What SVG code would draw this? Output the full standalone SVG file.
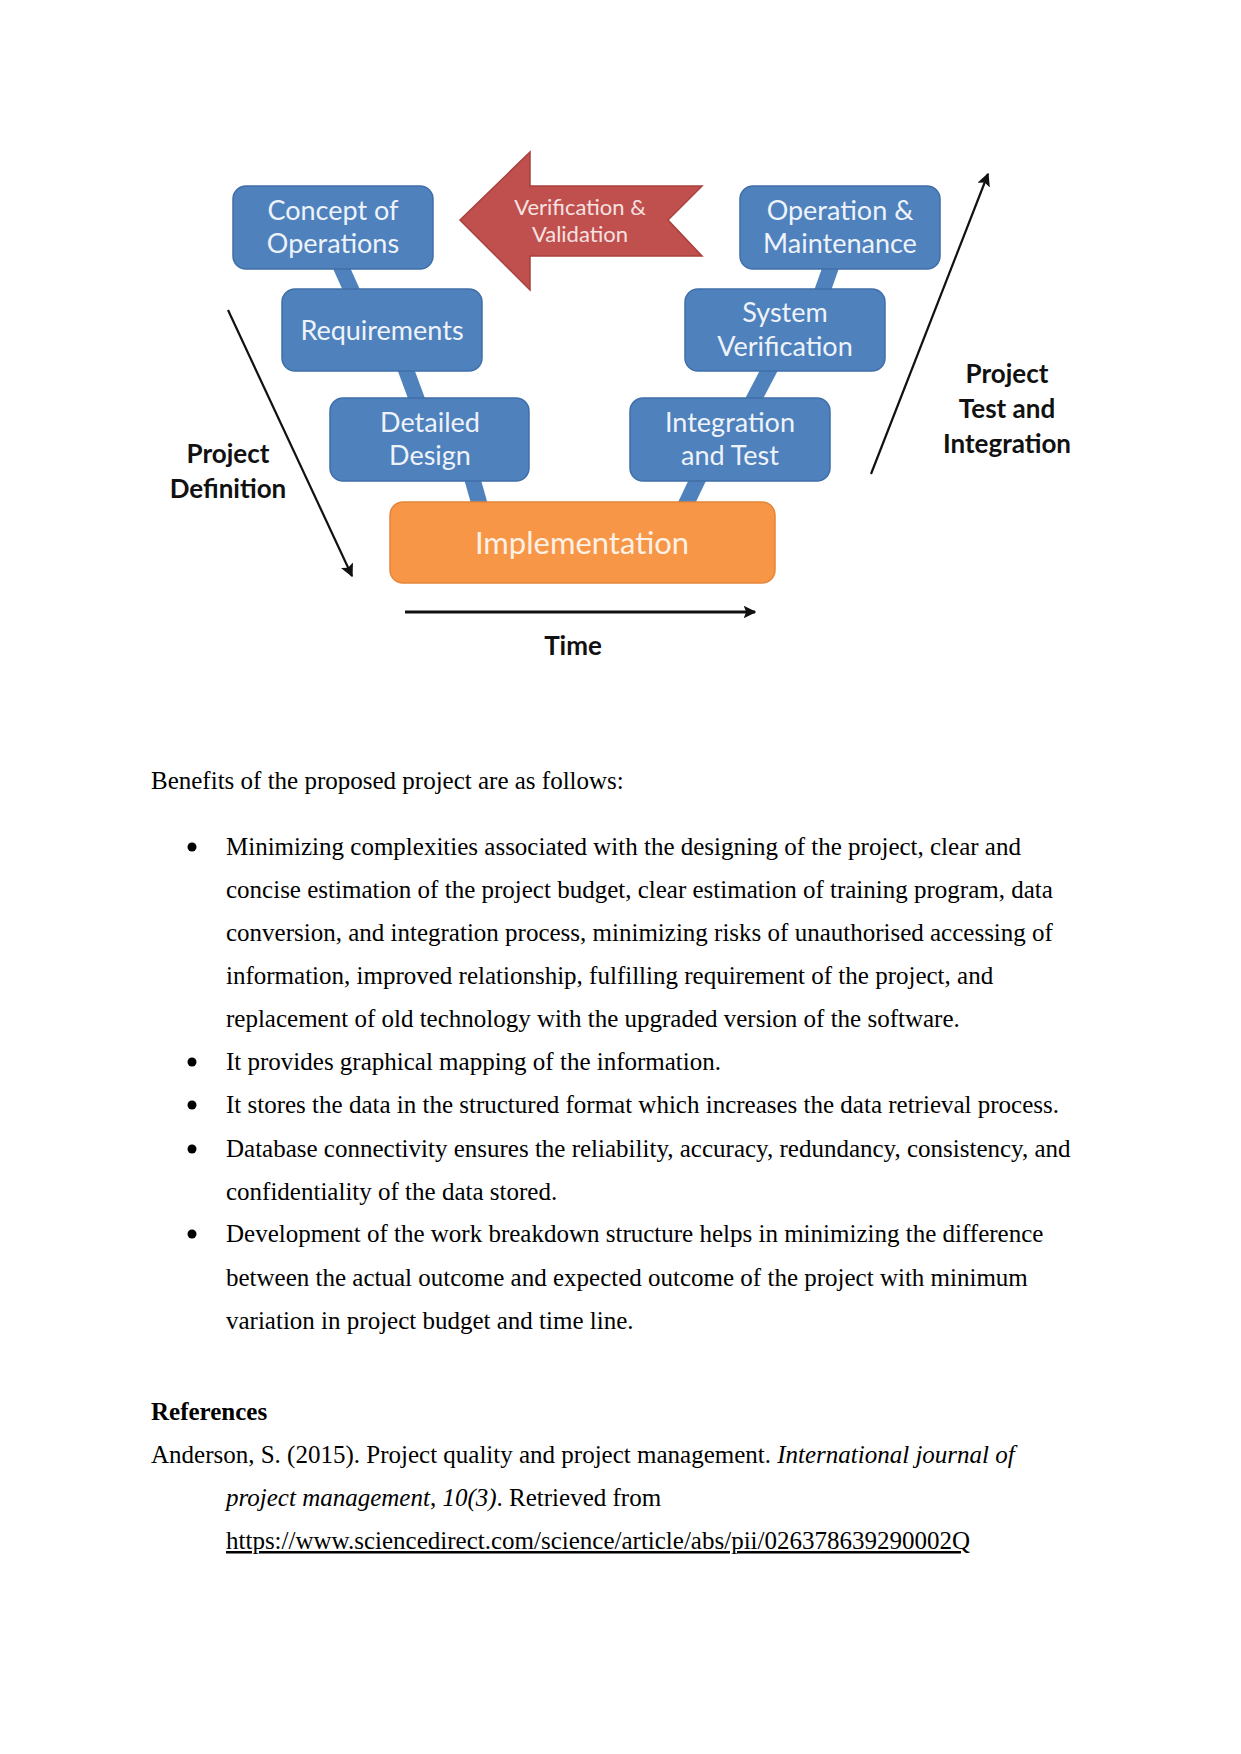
<svg xmlns="http://www.w3.org/2000/svg" width="1241" height="1754" viewBox="0 0 1241 1754">
<style>
.box{fill:#4F81BD;stroke:#3F6FA8;stroke-width:1.5}
.btxt{font-family:Lato,"Open Sans",sans-serif;font-size:27px;fill:#EEF3FA;text-anchor:middle}
.vtxt{font-family:Lato,"Open Sans",sans-serif;font-size:22px;fill:#F6E2E1;text-anchor:middle}
.itxt{font-family:Lato,"Open Sans",sans-serif;font-size:31px;fill:#FDF1E6;text-anchor:middle}
.lbl{font-family:Lato,"Open Sans",sans-serif;font-size:26px;font-weight:bold;fill:#111;text-anchor:middle}
.bar{stroke:#4F81BD;stroke-width:16;fill:none}
.ln{stroke:#111;stroke-width:2.2;fill:none}
.body{font-family:"Liberation Serif","Times New Roman",serif;font-size:25px;fill:#000}
</style>
<defs>
<marker id="ah" viewBox="0 0 10 10" refX="9" refY="5" markerWidth="6" markerHeight="6" orient="auto" markerUnits="strokeWidth">
<path d="M0,0 L10,5 L0,10 L2,5 z" fill="#111"/>
</marker>
<marker id="ahs" viewBox="0 0 10 10" refX="9" refY="5" markerWidth="4.5" markerHeight="4.5" orient="auto" markerUnits="strokeWidth">
<path d="M0,0 L10,5 L0,10 L2,5 z" fill="#111"/>
</marker>
</defs>
<rect width="1241" height="1754" fill="#fff"/>

<g id="connectors">
<line class="bar" x1="332" y1="247" x2="360" y2="309"/>
<line class="bar" x1="399" y1="351" x2="423" y2="416"/>
<line class="bar" x1="467" y1="460" x2="484" y2="520"/>
<line class="bar" x1="838" y1="247" x2="816" y2="309"/>
<line class="bar" x1="779" y1="351" x2="744" y2="418"/>
<line class="bar" x1="707" y1="460" x2="678" y2="521"/>
<line class="ln" x1="228" y1="310" x2="352" y2="576" marker-end="url(#ah)"/>
<line class="ln" x1="871" y1="474" x2="988" y2="174" marker-end="url(#ah)"/>
<line class="ln" x1="405" y1="612" x2="755" y2="612" style="stroke-width:2.8" marker-end="url(#ahs)"/>
</g>

<g id="concept">
<rect class="box" x="233" y="186" width="200" height="83" rx="13"/>
<text class="btxt" x="333" y="220">Concept of</text>
<text class="btxt" x="333" y="253">Operations</text>
</g>
<g id="requirements">
<rect class="box" x="282" y="289" width="200" height="82" rx="13"/>
<text class="btxt" x="382" y="340">Requirements</text>
</g>
<g id="detailed-design">
<rect class="box" x="330" y="398" width="199" height="83" rx="13"/>
<text class="btxt" x="430" y="432">Detailed</text>
<text class="btxt" x="430" y="465">Design</text>
</g>
<g id="implementation">
<rect x="390" y="502" width="385" height="81" rx="13" fill="#F79646" stroke="#E4853A" stroke-width="1.5"/>
<text class="itxt" x="582" y="554">Implementation</text>
</g>
<g id="integration-test">
<rect class="box" x="630" y="398" width="200" height="83" rx="13"/>
<text class="btxt" x="730" y="432">Integration</text>
<text class="btxt" x="730" y="465">and Test</text>
</g>
<g id="system-verification">
<rect class="box" x="685" y="289" width="200" height="82" rx="13"/>
<text class="btxt" x="785" y="322">System</text>
<text class="btxt" x="785" y="356">Verification</text>
</g>
<g id="operation-maintenance">
<rect class="box" x="740" y="186" width="200" height="83" rx="13"/>
<text class="btxt" x="840" y="220">Operation &amp;</text>
<text class="btxt" x="840" y="253">Maintenance</text>
</g>
<g id="verification-validation">
<polygon points="460,220 530,152 530,186 702,186 668,220 702,256 530,256 530,290" fill="#C0504D" stroke="#A8403D" stroke-width="1.5"/>
<text class="vtxt" x="580" y="215">Verification &amp;</text>
<text class="vtxt" x="580" y="242">Validation</text>
</g>
<g id="project-definition">
<text class="lbl" x="228" y="463">Project</text>
<text class="lbl" x="228" y="498">Definition</text>
</g>
<g id="project-test">
<text class="lbl" x="1007" y="383">Project</text>
<text class="lbl" x="1007" y="418">Test and</text>
<text class="lbl" x="1007" y="453">Integration</text>
</g>
<g id="time">
<text class="lbl" x="573" y="655">Time</text>
</g>

<g id="body-text" class="body">
<text class="body" x="151" y="789">Benefits of the proposed project are as follows:</text>
<circle cx="192" cy="847" r="4.5"/>
<text class="body" x="226" y="855">Minimizing complexities associated with the designing of the project, clear and</text>
<text class="body" x="226" y="898">concise estimation of the project budget, clear estimation of training program, data</text>
<text class="body" x="226" y="941">conversion, and integration process, minimizing risks of unauthorised accessing of</text>
<text class="body" x="226" y="984">information, improved relationship, fulfilling requirement of the project, and</text>
<text class="body" x="226" y="1027">replacement of old technology with the upgraded version of the software.</text>
<circle cx="192" cy="1062" r="4.5"/>
<text class="body" x="226" y="1070">It provides graphical mapping of the information.</text>
<circle cx="192" cy="1105" r="4.5"/>
<text class="body" x="226" y="1113">It stores the data in the structured format which increases the data retrieval process.</text>
<circle cx="192" cy="1149" r="4.5"/>
<text class="body" x="226" y="1157">Database connectivity ensures the reliability, accuracy, redundancy, consistency, and</text>
<text class="body" x="226" y="1200">confidentiality of the data stored.</text>
<circle cx="192" cy="1234" r="4.5"/>
<text class="body" x="226" y="1242">Development of the work breakdown structure helps in minimizing the difference</text>
<text class="body" x="226" y="1286">between the actual outcome and expected outcome of the project with minimum</text>
<text class="body" x="226" y="1329">variation in project budget and time line.</text>
<text class="body" x="151" y="1420" style="font-weight:bold">References</text>
<text class="body" x="151" y="1463">Anderson, S. (2015). Project quality and project management. <tspan style="font-style:italic">International journal of</tspan></text>
<text class="body" x="226" y="1506"><tspan style="font-style:italic">project management</tspan>, <tspan style="font-style:italic">10(3)</tspan>. Retrieved from</text>
<text class="body" x="226" y="1549" style="text-decoration:underline">https://www.sciencedirect.com/science/article/abs/pii/026378639290002Q</text>
</g>
</svg>
